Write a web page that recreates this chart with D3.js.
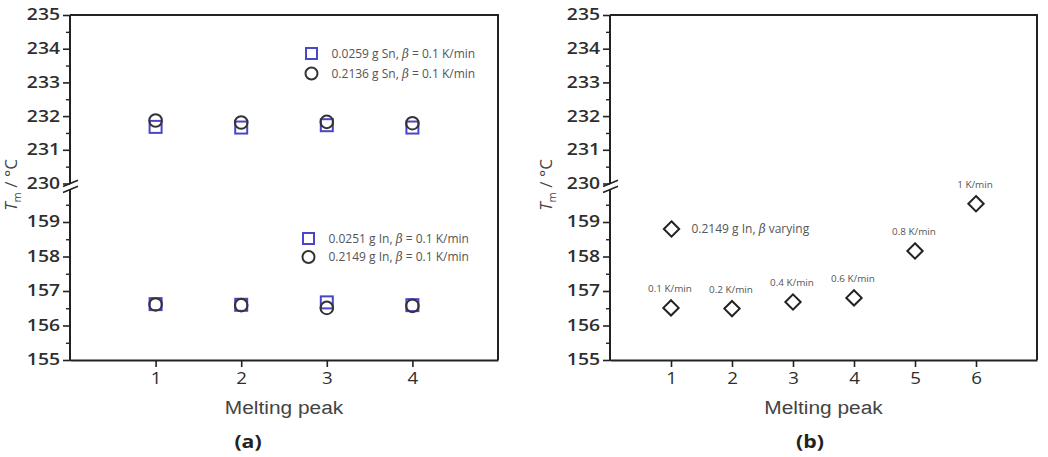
<!DOCTYPE html>
<html><head><meta charset="utf-8">
<script src="https://cdn.jsdelivr.net/npm/d3@7"></script>
<style>
html,body{margin:0;padding:0;background:#fff;}
svg{display:block;}
</style></head>
<body>
<svg id="chart" width="1048" height="457"></svg>
<script>
// ---------------- data ----------------
const peaksA = [1, 2, 3, 4];
const sn0259 = [231.68, 231.66, 231.73, 231.66];
const sn2136 = [231.87, 231.81, 231.83, 231.79];
const in0251 = [156.62, 156.60, 156.67, 156.59];
const in2149 = [156.61, 156.59, 156.51, 156.57];

const peaksB = [1, 2, 3, 4, 5, 6];
const inVarying = [156.51, 156.49, 156.68, 156.80, 158.16, 159.53];
const rateLabels = ["0.1 K/min", "0.2 K/min", "0.4 K/min", "0.6 K/min", "0.8 K/min", "1 K/min"];

const upperTicks = [230, 231, 232, 233, 234, 235];
const lowerTicks = [155, 156, 157, 158, 159];
const upperMinor = [230.5, 231.5, 232.5, 233.5, 234.5];
const lowerMinor = [155.5, 156.5, 157.5, 158.5, 159.5];
const xTicksA = [1, 2, 3, 4];
const xTicksB = [1, 2, 3, 4, 5, 6];

// ---------------- helpers ----------------
const svg = d3.select("#chart");
const AX = "#222";
const TXT = "#2e2e2e";
const fmt = d3.format("d");

function stretch(sel, k) {
  sel.each(function () {
    const w = this.getComputedTextLength();
    if (w > 0) {
      this.setAttribute("textLength", (w * k).toFixed(1));
      this.setAttribute("lengthAdjust", "spacingAndGlyphs");
    }
  });
}

const TOP = 15, BOT = 360;
const yU = d3.scaleLinear().domain([230, 235]).range([183.5, TOP]);
const yL = d3.scaleLinear().domain([155, 160]).range([BOT, 187.5]);
const yv = v => (v >= 200 ? yU(v) : yL(v));

function panel(x0, x1, xmax, xTicks, labelPad, titleX, tag) {
  const x = d3.scaleLinear().domain([0, xmax]).range([x0, x1]);
  const g = svg.append("g");

  const mk = (sc, vals) => d3.axisLeft(sc).tickValues(vals).tickFormat(fmt).tickSize(7).tickSizeOuter(0).tickPadding(labelPad);
  const gu = g.append("g").attr("transform", `translate(${x0},0)`).call(mk(yU, upperTicks));
  const gl = g.append("g").attr("transform", `translate(${x0},0)`).call(mk(yL, lowerTicks));
  [gu, gl].forEach(a => {
    a.select(".domain").remove();
    a.selectAll(".tick line").attr("stroke", AX).attr("stroke-width", 1.6);
    a.selectAll(".tick text").attr("fill", TXT).attr("font-family", "Open Sans, sans-serif")
      .attr("font-weight", 600).attr("font-size", 15.5).call(stretch, 1.25);
  });
  const mn = (sc, vals) => d3.axisLeft(sc).tickValues(vals).tickSize(4).tickSizeOuter(0).tickFormat("");
  [g.append("g").attr("transform", `translate(${x0},0)`).call(mn(yU, upperMinor)),
   g.append("g").attr("transform", `translate(${x0},0)`).call(mn(yL, lowerMinor))].forEach(a => {
    a.select(".domain").remove();
    a.selectAll(".tick line").attr("stroke", AX).attr("stroke-width", 1.4);
  });

  // axis line with break
  g.append("line").attr("x1", x0).attr("x2", x0).attr("y1", TOP).attr("y2", 183.5)
    .attr("stroke", AX).attr("stroke-width", 2);
  g.append("line").attr("x1", x0).attr("x2", x0).attr("y1", 189.5).attr("y2", BOT + 1)
    .attr("stroke", AX).attr("stroke-width", 2);
  [183.5, 189.5].forEach(yc => {
    g.append("line").attr("x1", x0 - 7).attr("y1", yc + 3).attr("x2", x0 + 8).attr("y2", yc - 3.2)
      .attr("stroke", AX).attr("stroke-width", 1.6);
  });

  // x axis
  const gx = g.append("g").attr("transform", `translate(0,${BOT})`)
    .call(d3.axisBottom(x).tickValues(xTicks).tickFormat(fmt).tickSize(7).tickSizeOuter(0).tickPadding(6));
  gx.select(".domain").attr("stroke", AX).attr("stroke-width", 2);
  gx.selectAll(".tick line").attr("stroke", AX).attr("stroke-width", 1.6);
  gx.selectAll(".tick text").attr("fill", TXT).attr("font-family", "Open Sans, sans-serif")
    .attr("font-size", 15.5).call(stretch, 1.2);

  // frame
  g.append("path").attr("d", `M${x0},${TOP}H${x1}V${BOT}`).attr("fill", "none")
    .attr("stroke", AX).attr("stroke-width", 2);

  // x title
  g.append("text").attr("x", (x0 + x1) / 2).attr("y", 414).attr("text-anchor", "middle")
    .attr("font-family", "Liberation Sans, Arial, sans-serif").attr("font-size", 18).attr("fill", "#444")
    .text("Melting peak").call(stretch, 1.16);

  // panel tag
  g.append("text").attr("x", tag.x).attr("y", 448).attr("text-anchor", "middle")
    .attr("font-family", "Open Sans, sans-serif").attr("font-weight", "bold").attr("font-size", 17)
    .attr("fill", "#222").text(tag.t).call(stretch, 1.25);

  // y title
  const yt = g.append("text").attr("transform", `translate(${titleX},185) rotate(-90)`)
    .attr("text-anchor", "middle").attr("font-family", "Open Sans, sans-serif").attr("font-size", 17)
    .attr("fill", "#444");
  yt.append("tspan").attr("font-style", "italic").text("T");
  yt.append("tspan").attr("font-size", 11).attr("dy", 4).text("m");
  yt.append("tspan").attr("dy", -4).text(" / °C");

  return x;
}

// ---------------- panel (a) ----------------
const xA = panel(70, 498, 5, xTicksA, 3, 17, {x: 248, t: "(a)"});
const BLUE = "#4a46c9", DARK = "#333";
const SQ = 12, R = 6.3;

function squares(vals, xs) {
  svg.append("g").selectAll("rect").data(vals).join("rect")
    .attr("x", (d, i) => xs(peaksA[i]) - SQ / 2).attr("y", d => yv(d) - SQ / 2)
    .attr("width", SQ).attr("height", SQ).attr("fill", "none").attr("stroke", BLUE).attr("stroke-width", 2);
}
function circles(vals, xs) {
  svg.append("g").selectAll("circle").data(vals).join("circle")
    .attr("cx", (d, i) => xs(peaksA[i])).attr("cy", d => yv(d)).attr("r", R)
    .attr("fill", "none").attr("stroke", DARK).attr("stroke-width", 2);
}
squares(sn0259, xA); circles(sn2136, xA);
squares(in0251, xA); circles(in2149, xA);

function legendRow(lx, ly, shape, before, after) {
  const g = svg.append("g");
  if (shape === "sq") g.append("rect").attr("x", lx - 5.5).attr("y", ly - 5.5).attr("width", 11).attr("height", 11)
    .attr("fill", "none").attr("stroke", BLUE).attr("stroke-width", 2);
  else if (shape === "ci") g.append("circle").attr("cx", lx).attr("cy", ly).attr("r", 6)
    .attr("fill", "none").attr("stroke", DARK).attr("stroke-width", 2);
  else g.append("path").attr("d", d3.symbol(d3.symbolDiamond2, 150)()).attr("transform", `translate(${lx},${ly})`)
    .attr("fill", "none").attr("stroke", "#222").attr("stroke-width", 2);
  const t = g.append("text").attr("x", lx + 20).attr("y", ly + 4)
    .attr("font-family", "Open Sans, sans-serif").attr("font-size", 12).attr("fill", "#555");
  t.append("tspan").text(before);
  t.append("tspan").attr("font-style", "italic").attr("font-family", "DejaVu Serif, serif").text("β");
  t.append("tspan").text(after);
  t.call(stretch, 1.0);
}
legendRow(311.5, 53.5, "sq", "0.0259 g Sn, ", " = 0.1 K/min");
legendRow(311.5, 73.5, "ci", "0.2136 g Sn, ", " = 0.1 K/min");
legendRow(308.5, 238.5, "sq", "0.0251 g In, ", " = 0.1 K/min");
legendRow(308.5, 257, "ci", "0.2149 g In, ", " = 0.1 K/min");

// ---------------- panel (b) ----------------
const xB = panel(610, 1037, 7, xTicksB, 3, 552, {x: 810, t: "(b)"});
svg.append("g").selectAll("path").data(inVarying).join("path")
  .attr("d", d3.symbol(d3.symbolDiamond2, 150)())
  .attr("transform", (d, i) => `translate(${xB(peaksB[i])},${yv(d)})`)
  .attr("fill", "none").attr("stroke", "#222").attr("stroke-width", 2);
svg.append("g").selectAll("text").data(inVarying).join("text")
  .attr("x", (d, i) => xB(peaksB[i]) - 1).attr("y", d => yv(d) - 16)
  .attr("text-anchor", "middle").attr("font-family", "Open Sans, sans-serif").attr("font-size", 9)
  .attr("fill", "#555").text((d, i) => rateLabels[i]).call(stretch, 1.1);

legendRow(671.5, 229, "di", "0.2149 g In, ", " varying");
</script>
</body></html>
